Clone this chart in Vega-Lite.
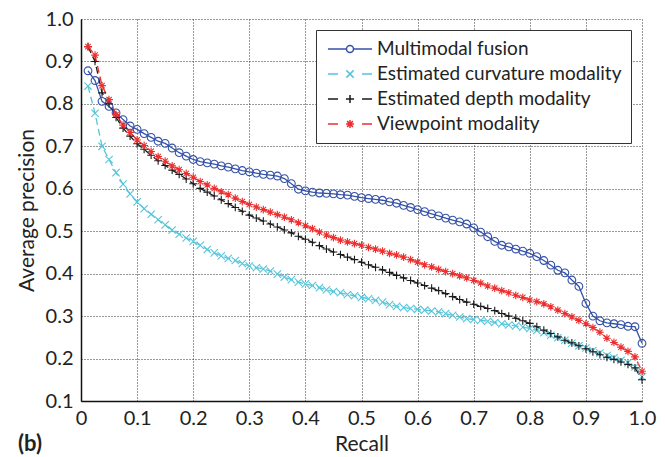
{
"$schema": "https://vega.github.io/schema/vega-lite/v6.json",
"width": 561, "height": 382,
"autosize": "none",
"padding": {"left": 81, "top": 19, "right": 23, "bottom": 56},
"background": "white",
"config": {
  "view": {"stroke": null},
  "axis": {"domainColor": "#111", "domainWidth": 1.5, "grid": true, "gridColor": "#333", "gridDash": [1, 2], "gridWidth": 1, "ticks": false,
    "labelFont": "Lato", "labelFontSize": 20, "labelColor": "#222", "titleFont": "Lato", "titleFontSize": 21, "titleFontWeight": "normal", "titleColor": "#222",
    "labelFlush": false, "labelOverlap": false}
},
"title": {"text": "(b)", "orient": "bottom", "anchor": "start", "frame": "group", "font": "Lato", "fontSize": 22, "fontWeight": "bold", "color": "#222", "dx": -63, "offset": -20},
"data": {"values": [
{"series":"Multimodal fusion","recall":0.0125,"precision":0.878},{"series":"Multimodal fusion","recall":0.025,"precision":0.855},{"series":"Multimodal fusion","recall":0.0375,"precision":0.806},{"series":"Multimodal fusion","recall":0.05,"precision":0.794},{"series":"Multimodal fusion","recall":0.0625,"precision":0.779},{"series":"Multimodal fusion","recall":0.075,"precision":0.763},{"series":"Multimodal fusion","recall":0.0875,"precision":0.748},{"series":"Multimodal fusion","recall":0.1,"precision":0.740},{"series":"Multimodal fusion","recall":0.1125,"precision":0.730},{"series":"Multimodal fusion","recall":0.125,"precision":0.721},
{"series":"Multimodal fusion","recall":0.1375,"precision":0.712},{"series":"Multimodal fusion","recall":0.15,"precision":0.707},{"series":"Multimodal fusion","recall":0.1625,"precision":0.696},{"series":"Multimodal fusion","recall":0.175,"precision":0.685},{"series":"Multimodal fusion","recall":0.1875,"precision":0.677},{"series":"Multimodal fusion","recall":0.2,"precision":0.669},{"series":"Multimodal fusion","recall":0.2125,"precision":0.664},{"series":"Multimodal fusion","recall":0.225,"precision":0.661},{"series":"Multimodal fusion","recall":0.2375,"precision":0.658},{"series":"Multimodal fusion","recall":0.25,"precision":0.654},
{"series":"Multimodal fusion","recall":0.2625,"precision":0.651},{"series":"Multimodal fusion","recall":0.275,"precision":0.647},{"series":"Multimodal fusion","recall":0.2875,"precision":0.643},{"series":"Multimodal fusion","recall":0.3,"precision":0.640},{"series":"Multimodal fusion","recall":0.3125,"precision":0.637},{"series":"Multimodal fusion","recall":0.325,"precision":0.634},{"series":"Multimodal fusion","recall":0.3375,"precision":0.632},{"series":"Multimodal fusion","recall":0.35,"precision":0.630},{"series":"Multimodal fusion","recall":0.3625,"precision":0.624},{"series":"Multimodal fusion","recall":0.375,"precision":0.612},
{"series":"Multimodal fusion","recall":0.3875,"precision":0.599},{"series":"Multimodal fusion","recall":0.4,"precision":0.595},{"series":"Multimodal fusion","recall":0.4125,"precision":0.592},{"series":"Multimodal fusion","recall":0.425,"precision":0.590},{"series":"Multimodal fusion","recall":0.4375,"precision":0.589},{"series":"Multimodal fusion","recall":0.45,"precision":0.588},{"series":"Multimodal fusion","recall":0.4625,"precision":0.586},{"series":"Multimodal fusion","recall":0.475,"precision":0.585},{"series":"Multimodal fusion","recall":0.4875,"precision":0.582},{"series":"Multimodal fusion","recall":0.5,"precision":0.579},
{"series":"Multimodal fusion","recall":0.5125,"precision":0.577},{"series":"Multimodal fusion","recall":0.525,"precision":0.575},{"series":"Multimodal fusion","recall":0.5375,"precision":0.573},{"series":"Multimodal fusion","recall":0.55,"precision":0.569},{"series":"Multimodal fusion","recall":0.5625,"precision":0.566},{"series":"Multimodal fusion","recall":0.575,"precision":0.561},{"series":"Multimodal fusion","recall":0.5875,"precision":0.556},{"series":"Multimodal fusion","recall":0.6,"precision":0.551},{"series":"Multimodal fusion","recall":0.6125,"precision":0.546},{"series":"Multimodal fusion","recall":0.625,"precision":0.541},
{"series":"Multimodal fusion","recall":0.6375,"precision":0.536},{"series":"Multimodal fusion","recall":0.65,"precision":0.531},{"series":"Multimodal fusion","recall":0.6625,"precision":0.526},{"series":"Multimodal fusion","recall":0.675,"precision":0.522},{"series":"Multimodal fusion","recall":0.6875,"precision":0.517},{"series":"Multimodal fusion","recall":0.7,"precision":0.508},{"series":"Multimodal fusion","recall":0.7125,"precision":0.498},{"series":"Multimodal fusion","recall":0.725,"precision":0.487},{"series":"Multimodal fusion","recall":0.7375,"precision":0.476},{"series":"Multimodal fusion","recall":0.75,"precision":0.467},
{"series":"Multimodal fusion","recall":0.7625,"precision":0.463},{"series":"Multimodal fusion","recall":0.775,"precision":0.458},{"series":"Multimodal fusion","recall":0.7875,"precision":0.453},{"series":"Multimodal fusion","recall":0.8,"precision":0.448},{"series":"Multimodal fusion","recall":0.8125,"precision":0.440},{"series":"Multimodal fusion","recall":0.825,"precision":0.431},{"series":"Multimodal fusion","recall":0.8375,"precision":0.420},{"series":"Multimodal fusion","recall":0.85,"precision":0.408},{"series":"Multimodal fusion","recall":0.8625,"precision":0.402},{"series":"Multimodal fusion","recall":0.875,"precision":0.385},
{"series":"Multimodal fusion","recall":0.8875,"precision":0.370},{"series":"Multimodal fusion","recall":0.9,"precision":0.330},{"series":"Multimodal fusion","recall":0.9125,"precision":0.300},{"series":"Multimodal fusion","recall":0.925,"precision":0.289},{"series":"Multimodal fusion","recall":0.9375,"precision":0.284},{"series":"Multimodal fusion","recall":0.95,"precision":0.282},{"series":"Multimodal fusion","recall":0.9625,"precision":0.280},{"series":"Multimodal fusion","recall":0.975,"precision":0.276},{"series":"Multimodal fusion","recall":0.9875,"precision":0.275},{"series":"Multimodal fusion","recall":1.0,"precision":0.236},
{"series":"Estimated curvature modality","recall":0.0125,"precision":0.842},{"series":"Estimated curvature modality","recall":0.025,"precision":0.778},{"series":"Estimated curvature modality","recall":0.0375,"precision":0.700},{"series":"Estimated curvature modality","recall":0.05,"precision":0.669},{"series":"Estimated curvature modality","recall":0.0625,"precision":0.638},{"series":"Estimated curvature modality","recall":0.075,"precision":0.611},{"series":"Estimated curvature modality","recall":0.0875,"precision":0.588},{"series":"Estimated curvature modality","recall":0.1,"precision":0.569},{"series":"Estimated curvature modality","recall":0.1125,"precision":0.553},{"series":"Estimated curvature modality","recall":0.125,"precision":0.540},
{"series":"Estimated curvature modality","recall":0.1375,"precision":0.527},{"series":"Estimated curvature modality","recall":0.15,"precision":0.515},{"series":"Estimated curvature modality","recall":0.1625,"precision":0.503},{"series":"Estimated curvature modality","recall":0.175,"precision":0.493},{"series":"Estimated curvature modality","recall":0.1875,"precision":0.484},{"series":"Estimated curvature modality","recall":0.2,"precision":0.476},{"series":"Estimated curvature modality","recall":0.2125,"precision":0.467},{"series":"Estimated curvature modality","recall":0.225,"precision":0.457},{"series":"Estimated curvature modality","recall":0.2375,"precision":0.449},{"series":"Estimated curvature modality","recall":0.25,"precision":0.442},
{"series":"Estimated curvature modality","recall":0.2625,"precision":0.436},{"series":"Estimated curvature modality","recall":0.275,"precision":0.431},{"series":"Estimated curvature modality","recall":0.2875,"precision":0.424},{"series":"Estimated curvature modality","recall":0.3,"precision":0.418},{"series":"Estimated curvature modality","recall":0.3125,"precision":0.414},{"series":"Estimated curvature modality","recall":0.325,"precision":0.411},{"series":"Estimated curvature modality","recall":0.3375,"precision":0.406},{"series":"Estimated curvature modality","recall":0.35,"precision":0.399},{"series":"Estimated curvature modality","recall":0.3625,"precision":0.392},{"series":"Estimated curvature modality","recall":0.375,"precision":0.386},
{"series":"Estimated curvature modality","recall":0.3875,"precision":0.380},{"series":"Estimated curvature modality","recall":0.4,"precision":0.376},{"series":"Estimated curvature modality","recall":0.4125,"precision":0.372},{"series":"Estimated curvature modality","recall":0.425,"precision":0.367},{"series":"Estimated curvature modality","recall":0.4375,"precision":0.362},{"series":"Estimated curvature modality","recall":0.45,"precision":0.358},{"series":"Estimated curvature modality","recall":0.4625,"precision":0.355},{"series":"Estimated curvature modality","recall":0.475,"precision":0.351},{"series":"Estimated curvature modality","recall":0.4875,"precision":0.348},{"series":"Estimated curvature modality","recall":0.5,"precision":0.344},
{"series":"Estimated curvature modality","recall":0.5125,"precision":0.341},{"series":"Estimated curvature modality","recall":0.525,"precision":0.337},{"series":"Estimated curvature modality","recall":0.5375,"precision":0.333},{"series":"Estimated curvature modality","recall":0.55,"precision":0.327},{"series":"Estimated curvature modality","recall":0.5625,"precision":0.323},{"series":"Estimated curvature modality","recall":0.575,"precision":0.320},{"series":"Estimated curvature modality","recall":0.5875,"precision":0.318},{"series":"Estimated curvature modality","recall":0.6,"precision":0.316},{"series":"Estimated curvature modality","recall":0.6125,"precision":0.314},{"series":"Estimated curvature modality","recall":0.625,"precision":0.312},
{"series":"Estimated curvature modality","recall":0.6375,"precision":0.310},{"series":"Estimated curvature modality","recall":0.65,"precision":0.306},{"series":"Estimated curvature modality","recall":0.6625,"precision":0.302},{"series":"Estimated curvature modality","recall":0.675,"precision":0.298},{"series":"Estimated curvature modality","recall":0.6875,"precision":0.294},{"series":"Estimated curvature modality","recall":0.7,"precision":0.292},{"series":"Estimated curvature modality","recall":0.7125,"precision":0.290},{"series":"Estimated curvature modality","recall":0.725,"precision":0.288},{"series":"Estimated curvature modality","recall":0.7375,"precision":0.285},{"series":"Estimated curvature modality","recall":0.75,"precision":0.282},
{"series":"Estimated curvature modality","recall":0.7625,"precision":0.279},{"series":"Estimated curvature modality","recall":0.775,"precision":0.277},{"series":"Estimated curvature modality","recall":0.7875,"precision":0.274},{"series":"Estimated curvature modality","recall":0.8,"precision":0.271},{"series":"Estimated curvature modality","recall":0.8125,"precision":0.266},{"series":"Estimated curvature modality","recall":0.825,"precision":0.261},{"series":"Estimated curvature modality","recall":0.8375,"precision":0.255},{"series":"Estimated curvature modality","recall":0.85,"precision":0.249},{"series":"Estimated curvature modality","recall":0.8625,"precision":0.243},{"series":"Estimated curvature modality","recall":0.875,"precision":0.236},
{"series":"Estimated curvature modality","recall":0.8875,"precision":0.230},{"series":"Estimated curvature modality","recall":0.9,"precision":0.225},{"series":"Estimated curvature modality","recall":0.9125,"precision":0.219},{"series":"Estimated curvature modality","recall":0.925,"precision":0.213},{"series":"Estimated curvature modality","recall":0.9375,"precision":0.207},{"series":"Estimated curvature modality","recall":0.95,"precision":0.202},{"series":"Estimated curvature modality","recall":0.9625,"precision":0.196},{"series":"Estimated curvature modality","recall":0.975,"precision":0.190},{"series":"Estimated curvature modality","recall":0.9875,"precision":0.180},{"series":"Estimated curvature modality","recall":1.0,"precision":0.157},
{"series":"Estimated depth modality","recall":0.0125,"precision":0.935},{"series":"Estimated depth modality","recall":0.025,"precision":0.900},{"series":"Estimated depth modality","recall":0.0375,"precision":0.826},{"series":"Estimated depth modality","recall":0.05,"precision":0.800},{"series":"Estimated depth modality","recall":0.0625,"precision":0.768},{"series":"Estimated depth modality","recall":0.075,"precision":0.743},{"series":"Estimated depth modality","recall":0.0875,"precision":0.724},{"series":"Estimated depth modality","recall":0.1,"precision":0.706},{"series":"Estimated depth modality","recall":0.1125,"precision":0.693},{"series":"Estimated depth modality","recall":0.125,"precision":0.679},
{"series":"Estimated depth modality","recall":0.1375,"precision":0.666},{"series":"Estimated depth modality","recall":0.15,"precision":0.655},{"series":"Estimated depth modality","recall":0.1625,"precision":0.644},{"series":"Estimated depth modality","recall":0.175,"precision":0.634},{"series":"Estimated depth modality","recall":0.1875,"precision":0.623},{"series":"Estimated depth modality","recall":0.2,"precision":0.612},{"series":"Estimated depth modality","recall":0.2125,"precision":0.601},{"series":"Estimated depth modality","recall":0.225,"precision":0.592},{"series":"Estimated depth modality","recall":0.2375,"precision":0.583},{"series":"Estimated depth modality","recall":0.25,"precision":0.574},
{"series":"Estimated depth modality","recall":0.2625,"precision":0.565},{"series":"Estimated depth modality","recall":0.275,"precision":0.556},{"series":"Estimated depth modality","recall":0.2875,"precision":0.547},{"series":"Estimated depth modality","recall":0.3,"precision":0.538},{"series":"Estimated depth modality","recall":0.3125,"precision":0.531},{"series":"Estimated depth modality","recall":0.325,"precision":0.524},{"series":"Estimated depth modality","recall":0.3375,"precision":0.517},{"series":"Estimated depth modality","recall":0.35,"precision":0.510},{"series":"Estimated depth modality","recall":0.3625,"precision":0.503},{"series":"Estimated depth modality","recall":0.375,"precision":0.496},
{"series":"Estimated depth modality","recall":0.3875,"precision":0.488},{"series":"Estimated depth modality","recall":0.4,"precision":0.481},{"series":"Estimated depth modality","recall":0.4125,"precision":0.474},{"series":"Estimated depth modality","recall":0.425,"precision":0.466},{"series":"Estimated depth modality","recall":0.4375,"precision":0.458},{"series":"Estimated depth modality","recall":0.45,"precision":0.451},{"series":"Estimated depth modality","recall":0.4625,"precision":0.445},{"series":"Estimated depth modality","recall":0.475,"precision":0.439},{"series":"Estimated depth modality","recall":0.4875,"precision":0.433},{"series":"Estimated depth modality","recall":0.5,"precision":0.427},
{"series":"Estimated depth modality","recall":0.5125,"precision":0.421},{"series":"Estimated depth modality","recall":0.525,"precision":0.415},{"series":"Estimated depth modality","recall":0.5375,"precision":0.409},{"series":"Estimated depth modality","recall":0.55,"precision":0.403},{"series":"Estimated depth modality","recall":0.5625,"precision":0.396},{"series":"Estimated depth modality","recall":0.575,"precision":0.390},{"series":"Estimated depth modality","recall":0.5875,"precision":0.384},{"series":"Estimated depth modality","recall":0.6,"precision":0.378},{"series":"Estimated depth modality","recall":0.6125,"precision":0.372},{"series":"Estimated depth modality","recall":0.625,"precision":0.366},
{"series":"Estimated depth modality","recall":0.6375,"precision":0.360},{"series":"Estimated depth modality","recall":0.65,"precision":0.353},{"series":"Estimated depth modality","recall":0.6625,"precision":0.346},{"series":"Estimated depth modality","recall":0.675,"precision":0.339},{"series":"Estimated depth modality","recall":0.6875,"precision":0.333},{"series":"Estimated depth modality","recall":0.7,"precision":0.328},{"series":"Estimated depth modality","recall":0.7125,"precision":0.323},{"series":"Estimated depth modality","recall":0.725,"precision":0.318},{"series":"Estimated depth modality","recall":0.7375,"precision":0.313},{"series":"Estimated depth modality","recall":0.75,"precision":0.306},
{"series":"Estimated depth modality","recall":0.7625,"precision":0.300},{"series":"Estimated depth modality","recall":0.775,"precision":0.295},{"series":"Estimated depth modality","recall":0.7875,"precision":0.289},{"series":"Estimated depth modality","recall":0.8,"precision":0.283},{"series":"Estimated depth modality","recall":0.8125,"precision":0.275},{"series":"Estimated depth modality","recall":0.825,"precision":0.267},{"series":"Estimated depth modality","recall":0.8375,"precision":0.259},{"series":"Estimated depth modality","recall":0.85,"precision":0.251},{"series":"Estimated depth modality","recall":0.8625,"precision":0.243},{"series":"Estimated depth modality","recall":0.875,"precision":0.237},
{"series":"Estimated depth modality","recall":0.8875,"precision":0.230},{"series":"Estimated depth modality","recall":0.9,"precision":0.223},{"series":"Estimated depth modality","recall":0.9125,"precision":0.216},{"series":"Estimated depth modality","recall":0.925,"precision":0.209},{"series":"Estimated depth modality","recall":0.9375,"precision":0.203},{"series":"Estimated depth modality","recall":0.95,"precision":0.198},{"series":"Estimated depth modality","recall":0.9625,"precision":0.192},{"series":"Estimated depth modality","recall":0.975,"precision":0.186},{"series":"Estimated depth modality","recall":0.9875,"precision":0.178},{"series":"Estimated depth modality","recall":1.0,"precision":0.150},
{"series":"Viewpoint modality","recall":0.0125,"precision":0.935},{"series":"Viewpoint modality","recall":0.025,"precision":0.915},{"series":"Viewpoint modality","recall":0.0375,"precision":0.843},{"series":"Viewpoint modality","recall":0.05,"precision":0.810},{"series":"Viewpoint modality","recall":0.0625,"precision":0.775},{"series":"Viewpoint modality","recall":0.075,"precision":0.750},{"series":"Viewpoint modality","recall":0.0875,"precision":0.733},{"series":"Viewpoint modality","recall":0.1,"precision":0.715},{"series":"Viewpoint modality","recall":0.1125,"precision":0.702},{"series":"Viewpoint modality","recall":0.125,"precision":0.688},
{"series":"Viewpoint modality","recall":0.1375,"precision":0.676},{"series":"Viewpoint modality","recall":0.15,"precision":0.665},{"series":"Viewpoint modality","recall":0.1625,"precision":0.654},{"series":"Viewpoint modality","recall":0.175,"precision":0.645},{"series":"Viewpoint modality","recall":0.1875,"precision":0.636},{"series":"Viewpoint modality","recall":0.2,"precision":0.627},{"series":"Viewpoint modality","recall":0.2125,"precision":0.617},{"series":"Viewpoint modality","recall":0.225,"precision":0.609},{"series":"Viewpoint modality","recall":0.2375,"precision":0.601},{"series":"Viewpoint modality","recall":0.25,"precision":0.593},
{"series":"Viewpoint modality","recall":0.2625,"precision":0.586},{"series":"Viewpoint modality","recall":0.275,"precision":0.578},{"series":"Viewpoint modality","recall":0.2875,"precision":0.570},{"series":"Viewpoint modality","recall":0.3,"precision":0.563},{"series":"Viewpoint modality","recall":0.3125,"precision":0.557},{"series":"Viewpoint modality","recall":0.325,"precision":0.551},{"series":"Viewpoint modality","recall":0.3375,"precision":0.545},{"series":"Viewpoint modality","recall":0.35,"precision":0.539},{"series":"Viewpoint modality","recall":0.3625,"precision":0.533},{"series":"Viewpoint modality","recall":0.375,"precision":0.527},
{"series":"Viewpoint modality","recall":0.3875,"precision":0.520},{"series":"Viewpoint modality","recall":0.4,"precision":0.513},{"series":"Viewpoint modality","recall":0.4125,"precision":0.506},{"series":"Viewpoint modality","recall":0.425,"precision":0.498},{"series":"Viewpoint modality","recall":0.4375,"precision":0.491},{"series":"Viewpoint modality","recall":0.45,"precision":0.485},{"series":"Viewpoint modality","recall":0.4625,"precision":0.479},{"series":"Viewpoint modality","recall":0.475,"precision":0.475},{"series":"Viewpoint modality","recall":0.4875,"precision":0.471},{"series":"Viewpoint modality","recall":0.5,"precision":0.467},
{"series":"Viewpoint modality","recall":0.5125,"precision":0.462},{"series":"Viewpoint modality","recall":0.525,"precision":0.458},{"series":"Viewpoint modality","recall":0.5375,"precision":0.453},{"series":"Viewpoint modality","recall":0.55,"precision":0.448},{"series":"Viewpoint modality","recall":0.5625,"precision":0.444},{"series":"Viewpoint modality","recall":0.575,"precision":0.439},{"series":"Viewpoint modality","recall":0.5875,"precision":0.433},{"series":"Viewpoint modality","recall":0.6,"precision":0.427},{"series":"Viewpoint modality","recall":0.6125,"precision":0.421},{"series":"Viewpoint modality","recall":0.625,"precision":0.416},
{"series":"Viewpoint modality","recall":0.6375,"precision":0.410},{"series":"Viewpoint modality","recall":0.65,"precision":0.405},{"series":"Viewpoint modality","recall":0.6625,"precision":0.400},{"series":"Viewpoint modality","recall":0.675,"precision":0.395},{"series":"Viewpoint modality","recall":0.6875,"precision":0.390},{"series":"Viewpoint modality","recall":0.7,"precision":0.384},{"series":"Viewpoint modality","recall":0.7125,"precision":0.378},{"series":"Viewpoint modality","recall":0.725,"precision":0.371},{"series":"Viewpoint modality","recall":0.7375,"precision":0.366},{"series":"Viewpoint modality","recall":0.75,"precision":0.360},
{"series":"Viewpoint modality","recall":0.7625,"precision":0.355},{"series":"Viewpoint modality","recall":0.775,"precision":0.349},{"series":"Viewpoint modality","recall":0.7875,"precision":0.344},{"series":"Viewpoint modality","recall":0.8,"precision":0.338},{"series":"Viewpoint modality","recall":0.8125,"precision":0.334},{"series":"Viewpoint modality","recall":0.825,"precision":0.329},{"series":"Viewpoint modality","recall":0.8375,"precision":0.322},{"series":"Viewpoint modality","recall":0.85,"precision":0.314},{"series":"Viewpoint modality","recall":0.8625,"precision":0.306},{"series":"Viewpoint modality","recall":0.875,"precision":0.298},
{"series":"Viewpoint modality","recall":0.8875,"precision":0.290},{"series":"Viewpoint modality","recall":0.9,"precision":0.282},{"series":"Viewpoint modality","recall":0.9125,"precision":0.273},{"series":"Viewpoint modality","recall":0.925,"precision":0.262},{"series":"Viewpoint modality","recall":0.9375,"precision":0.248},{"series":"Viewpoint modality","recall":0.95,"precision":0.238},{"series":"Viewpoint modality","recall":0.9625,"precision":0.227},{"series":"Viewpoint modality","recall":0.975,"precision":0.217},{"series":"Viewpoint modality","recall":0.9875,"precision":0.204},{"series":"Viewpoint modality","recall":1.0,"precision":0.170}
]},
"encoding": {
  "x": {"field": "recall", "type": "quantitative", "title": "Recall",
    "scale": {"domain": [0, 1], "nice": false, "zero": false},
    "axis": {"values": [0, 0.1, 0.2, 0.3, 0.4, 0.5, 0.6, 0.7, 0.8, 0.9, 1.0], "labelExpr": "datum.value == 0 ? '0' : format(datum.value, '.1f')", "labelPadding": 7, "titlePadding": 5}},
  "y": {"field": "precision", "type": "quantitative", "title": "Average precision",
    "scale": {"domain": [0.1, 1.0], "nice": false, "zero": false},
    "axis": {"values": [0.1, 0.2, 0.3, 0.4, 0.5, 0.6, 0.7, 0.8, 0.9, 1.0], "format": ".1f", "labelPadding": 8, "titlePadding": 8}}
},
"layer": [
  {"transform": [{"filter": "datum.series == 'Multimodal fusion'"}],
   "mark": {"type": "line", "strokeWidth": 1.3, "color": "#3552a8"}, "encoding": {}},
  {"transform": [{"filter": "datum.series == 'Estimated curvature modality'"}],
   "mark": {"type": "line", "strokeWidth": 1.3, "color": "#56c5d8", "strokeDash": [7, 4]}, "encoding": {}},
  {"transform": [{"filter": "datum.series == 'Estimated depth modality'"}],
   "mark": {"type": "line", "strokeWidth": 1.3, "color": "#1a1a1a", "strokeDash": [7, 4]}, "encoding": {}},
  {"transform": [{"filter": "datum.series == 'Viewpoint modality'"}],
   "mark": {"type": "line", "strokeWidth": 1.3, "color": "#ee2e2e", "strokeDash": [7, 4]}, "encoding": {}},
  {"transform": [{"filter": "datum.series == 'Multimodal fusion'"}],
   "mark": {"type": "point", "filled": false, "strokeWidth": 1.1, "size": 60, "opacity": 1, "color": "#3552a8", "shape": "M1,0A1,1 0 1,1 -1,0A1,1 0 1,1 1,0"}, "encoding": {}},
  {"transform": [{"filter": "datum.series == 'Estimated curvature modality'"}],
   "mark": {"type": "point", "filled": false, "strokeWidth": 1.1, "size": 60, "opacity": 1, "color": "#56c5d8", "shape": "M-0.95,-0.95L0.95,0.95M-0.95,0.95L0.95,-0.95"}, "encoding": {}},
  {"transform": [{"filter": "datum.series == 'Estimated depth modality'"}],
   "mark": {"type": "point", "filled": false, "strokeWidth": 1.1, "size": 60, "opacity": 1, "color": "#1a1a1a", "shape": "M-1,0H1M0,-1V1"}, "encoding": {}},
  {"transform": [{"filter": "datum.series == 'Viewpoint modality'"}],
   "mark": {"type": "point", "filled": false, "strokeWidth": 1.1, "size": 60, "opacity": 1, "color": "#ee2e2e", "shape": "M-1,0H1M0,-1V1M-0.7,-0.7L0.7,0.7M-0.7,0.7L0.7,-0.7"}, "encoding": {}},
  {"mark": {"type": "point", "filled": false, "opacity": 0},
   "encoding": {
     "color": {"field": "series", "type": "nominal",
       "scale": {"domain": ["Multimodal fusion", "Estimated curvature modality", "Estimated depth modality", "Viewpoint modality"], "range": ["#3552a8", "#56c5d8", "#1a1a1a", "#ee2e2e"]},
       "legend": {"title": null, "orient": "top-right", "offset": 11, "padding": 9,
         "labelFont": "Lato", "labelFontSize": 19, "labelColor": "#222", "labelLimit": 400,
         "symbolSize": 324, "symbolOffset": 15, "labelOffset": 17, "rowPadding": 5, "symbolStrokeWidth": 1.5, "symbolFillColor": "transparent", "symbolOpacity": 1,
         "strokeColor": "#333", "fillColor": "white"}},
     "shape": {"field": "series", "type": "nominal",
       "scale": {"domain": ["Multimodal fusion", "Estimated curvature modality", "Estimated depth modality", "Viewpoint modality"],
         "range": ["M-2.45,0H-0.39M0.39,0H2.45M0.39,0A0.39,0.39 0 1,1 -0.39,0A0.39,0.39 0 1,1 0.39,0", "M-2.45,0H-1.33M1.33,0H2.45M-0.4,-0.4L0.4,0.4M-0.4,0.4L0.4,-0.4", "M-2.45,0H-1.33M1.33,0H2.45M-0.45,0H0.45M0,-0.45V0.45", "M-2.45,0H-1.33M1.33,0H2.45M-0.45,0H0.45M0,-0.45V0.45M-0.32,-0.32L0.32,0.32M-0.32,0.32L0.32,-0.32"]},
       "legend": {"title": null, "orient": "top-right", "offset": 11, "padding": 9,
         "labelFont": "Lato", "labelFontSize": 19, "labelColor": "#222", "labelLimit": 400,
         "symbolSize": 324, "symbolOffset": 15, "labelOffset": 17, "rowPadding": 5, "symbolStrokeWidth": 1.5, "symbolFillColor": "transparent", "symbolOpacity": 1,
         "strokeColor": "#333", "fillColor": "white"}}
   }}
]
}
